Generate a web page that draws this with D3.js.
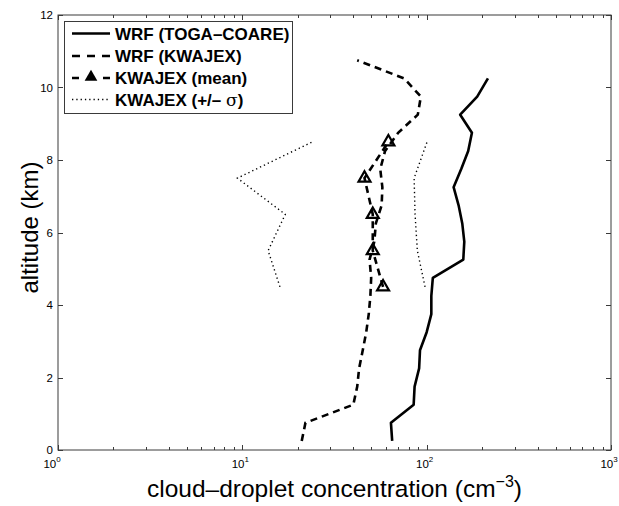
<!DOCTYPE html>
<html>
<head>
<meta charset="utf-8">
<script src="https://cdn.jsdelivr.net/npm/d3@7"></script>
<style>
  html, body { margin: 0; padding: 0; background: #fff; }
  svg { display: block; font-family: "Liberation Sans", Arial, Helvetica, sans-serif; }
</style>
</head>
<body>
<svg id="chart" width="619" height="506"></svg>
<script>
// Cloud-droplet concentration profiles (cm^-3) against altitude (km)
const altTogaCoare = [0.25, 0.75, 1.25, 1.75, 2.25, 2.75, 3.25, 3.75, 4.25, 4.75, 5.25,
                      5.75, 6.25, 6.75, 7.25, 7.75, 8.25, 8.75, 9.25, 9.75, 10.25];
const wrfTogaCoare = [65, 64, 85, 86, 91, 92, 100, 106, 106, 108, 158,
                      160, 156, 149, 140, 154, 168, 176, 152, 188, 215];

const altKwajexWrf = [0.25, 0.75, 1.25, 1.75, 2.25, 2.75, 3.25, 3.75, 4.25, 4.75, 5.25,
                      5.75, 6.25, 6.75, 7.25, 7.75, 8.25, 8.75, 9.25, 9.75, 10.25, 10.75];
const wrfKwajex    = [21, 22, 40, 42, 43, 45, 47, 48.5, 49.5, 50, 49,
                      52, 53, 57, 57.5, 56, 59.5, 70, 89.5, 93, 75.5, 42];

const altObs       = [4.5, 5.5, 6.5, 7.5, 8.5];
const kwajexMean   = [58, 51, 51, 46, 62];
const kwajexMinus  = [16, 13.8, 17.1, 9.4, 24];
const kwajexPlus   = [98, 89, 86.5, 85.5, 100.5];

const xTickValues  = [1, 10, 100, 1000];
const xTickExps    = ["0", "1", "2", "3"];
const yTickValues  = [0, 2, 4, 6, 8, 10, 12];

const legendLabels = ["WRF (TOGA\u2013COARE)", "WRF (KWAJEX)", "KWAJEX (mean)", "KWAJEX (+/\u2013 "];

const svg = d3.select("#chart");
const margin = { left: 58, right: 8, top: 15, bottom: 56 };
const W = 619, H = 506;
const x0 = margin.left, x1 = W - margin.right, y0 = H - margin.bottom, y1 = margin.top;

const x = d3.scaleLog().domain([1, 1000]).range([x0, x1]);
const y = d3.scaleLinear().domain([0, 12]).range([y0, y1]);

const axisColor = "#3a3a3a";

// Plot frame
svg.append("rect")
  .attr("x", x0).attr("y", y1).attr("width", x1 - x0).attr("height", y0 - y1)
  .attr("fill", "none").attr("stroke", axisColor).attr("stroke-width", 1);

// Minor and major log ticks (inward, bottom and top)
const minorTicks = [];
for (let d = 1; d < 1000; d *= 10) for (let k = 2; k <= 9; k++) minorTicks.push(d * k);

const tickG = svg.append("g").attr("stroke", axisColor).attr("stroke-width", 1);
minorTicks.forEach(v => {
  const px = Math.round(x(v)) + 0.5;
  tickG.append("line").attr("x1", px).attr("x2", px).attr("y1", y0).attr("y2", y0 - 3);
  tickG.append("line").attr("x1", px).attr("x2", px).attr("y1", y1).attr("y2", y1 + 3);
});
xTickValues.forEach(v => {
  const px = Math.round(x(v)) + 0.5;
  tickG.append("line").attr("x1", px).attr("x2", px).attr("y1", y0).attr("y2", y0 - 5);
  tickG.append("line").attr("x1", px).attr("x2", px).attr("y1", y1).attr("y2", y1 + 5);
});
yTickValues.forEach(v => {
  const py = Math.round(y(v)) + 0.5;
  tickG.append("line").attr("x1", x0).attr("x2", x0 + 5).attr("y1", py).attr("y2", py);
  tickG.append("line").attr("x1", x1).attr("x2", x1 - 5).attr("y1", py).attr("y2", py);
});

// Tick labels
const tickFont = 11.5;
svg.append("g").selectAll("text").data(yTickValues).join("text")
  .attr("x", x0 - 5).attr("y", d => y(d) + 4)
  .attr("text-anchor", "end").attr("font-size", tickFont).attr("fill", "#000")
  .text(d => d);

const xLab = svg.append("g").selectAll("text").data(xTickValues).join("text")
  .attr("x", (d, i) => x(d) - (i === 0 ? 6 : 2))
  .attr("y", y0 + 18)
  .attr("text-anchor", "middle").attr("font-size", tickFont).attr("fill", "#000");
xLab.append("tspan").text("10");
xLab.append("tspan").attr("dy", -6).attr("font-size", 8).text((d, i) => xTickExps[i]);

// Axis titles
svg.append("text")
  .attr("transform", `translate(38,${(y0 + y1) / 2 - 5}) rotate(-90)`)
  .attr("text-anchor", "middle").attr("font-size", 24).attr("fill", "#000")
  .text("altitude (km)");

const xTitle = svg.append("text")
  .attr("x", (x0 + x1) / 2).attr("y", y0 + 47)
  .attr("text-anchor", "middle").attr("font-size", 24.5).attr("fill", "#000");
xTitle.append("tspan").text("cloud\u2013droplet concentration (cm");
xTitle.append("tspan").attr("dy", -10).attr("font-size", 16).text("\u22123");
xTitle.append("tspan").attr("dy", 10).text(")");

// Profiles
const plot = svg.append("g");
const line = d3.line().x(d => x(d[0])).y(d => y(d[1]));
const zipPts = (vals, alts) => vals.map((v, i) => [v, alts[i]]);

plot.append("path").datum(zipPts(wrfTogaCoare, altTogaCoare))
  .attr("d", line).attr("fill", "none").attr("stroke", "#000")
  .attr("stroke-width", 2.6).attr("stroke-linejoin", "round");

plot.append("path").datum(zipPts(wrfKwajex, altKwajexWrf))
  .attr("d", line).attr("fill", "none").attr("stroke", "#000")
  .attr("stroke-width", 2.6).attr("stroke-dasharray", "7,5");

[kwajexMinus, kwajexPlus].forEach(series => {
  plot.append("path").datum(zipPts(series, altObs))
    .attr("d", line).attr("fill", "none").attr("stroke", "#000")
    .attr("stroke-width", 1.4).attr("stroke-dasharray", "1.3,3");
});

plot.append("path").datum(zipPts(kwajexMean, altObs))
  .attr("d", line).attr("fill", "none").attr("stroke", "#000")
  .attr("stroke-width", 2.6).attr("stroke-dasharray", "7,5");

const tri = d3.symbol().type(d3.symbolTriangle).size(62);
plot.selectAll("path.obs").data(zipPts(kwajexMean, altObs)).join("path")
  .attr("class", "obs")
  .attr("transform", d => `translate(${x(d[0])},${y(d[1])})`)
  .attr("d", tri).attr("fill", "none").attr("stroke", "#000").attr("stroke-width", 2.2);

// Legend
const lg = svg.append("g");
lg.append("rect").attr("x", 64.5).attr("y", 21.5).attr("width", 228).attr("height", 92)
  .attr("fill", "#fff").attr("stroke", axisColor).attr("stroke-width", 1);

const rowY = [33.5, 56, 78, 99.5];
const sx0 = 72, sx1 = 110;
lg.append("line").attr("x1", sx0).attr("x2", sx1).attr("y1", rowY[0]).attr("y2", rowY[0])
  .attr("stroke", "#000").attr("stroke-width", 2.6);
lg.append("line").attr("x1", sx0).attr("x2", sx1).attr("y1", rowY[1]).attr("y2", rowY[1])
  .attr("stroke", "#000").attr("stroke-width", 2.6).attr("stroke-dasharray", "8,7");
lg.append("line").attr("x1", sx0).attr("x2", sx1).attr("y1", rowY[2]).attr("y2", rowY[2])
  .attr("stroke", "#000").attr("stroke-width", 2.6).attr("stroke-dasharray", "7,24,7");
lg.append("path").attr("transform", `translate(${(sx0 + sx1) / 2},${rowY[2] - 1})`)
  .attr("d", d3.symbol().type(d3.symbolTriangle).size(70)).attr("fill", "#000");
lg.append("line").attr("x1", sx0).attr("x2", sx1).attr("y1", rowY[3]).attr("y2", rowY[3])
  .attr("stroke", "#000").attr("stroke-width", 1.4).attr("stroke-dasharray", "1.3,3");

const lt = lg.selectAll("text").data(legendLabels).join("text")
  .attr("x", 115).attr("y", (d, i) => rowY[i] + 6)
  .attr("font-size", 17).attr("font-weight", "bold").attr("fill", "#000")
  .text(d => d);
lt.filter((d, i) => i === 3).append("tspan").attr("font-weight", "normal").attr("font-family", "DejaVu Serif, serif").text("\u03c3");
lt.filter((d, i) => i === 3).append("tspan").text(")");
</script>
</body>
</html>
